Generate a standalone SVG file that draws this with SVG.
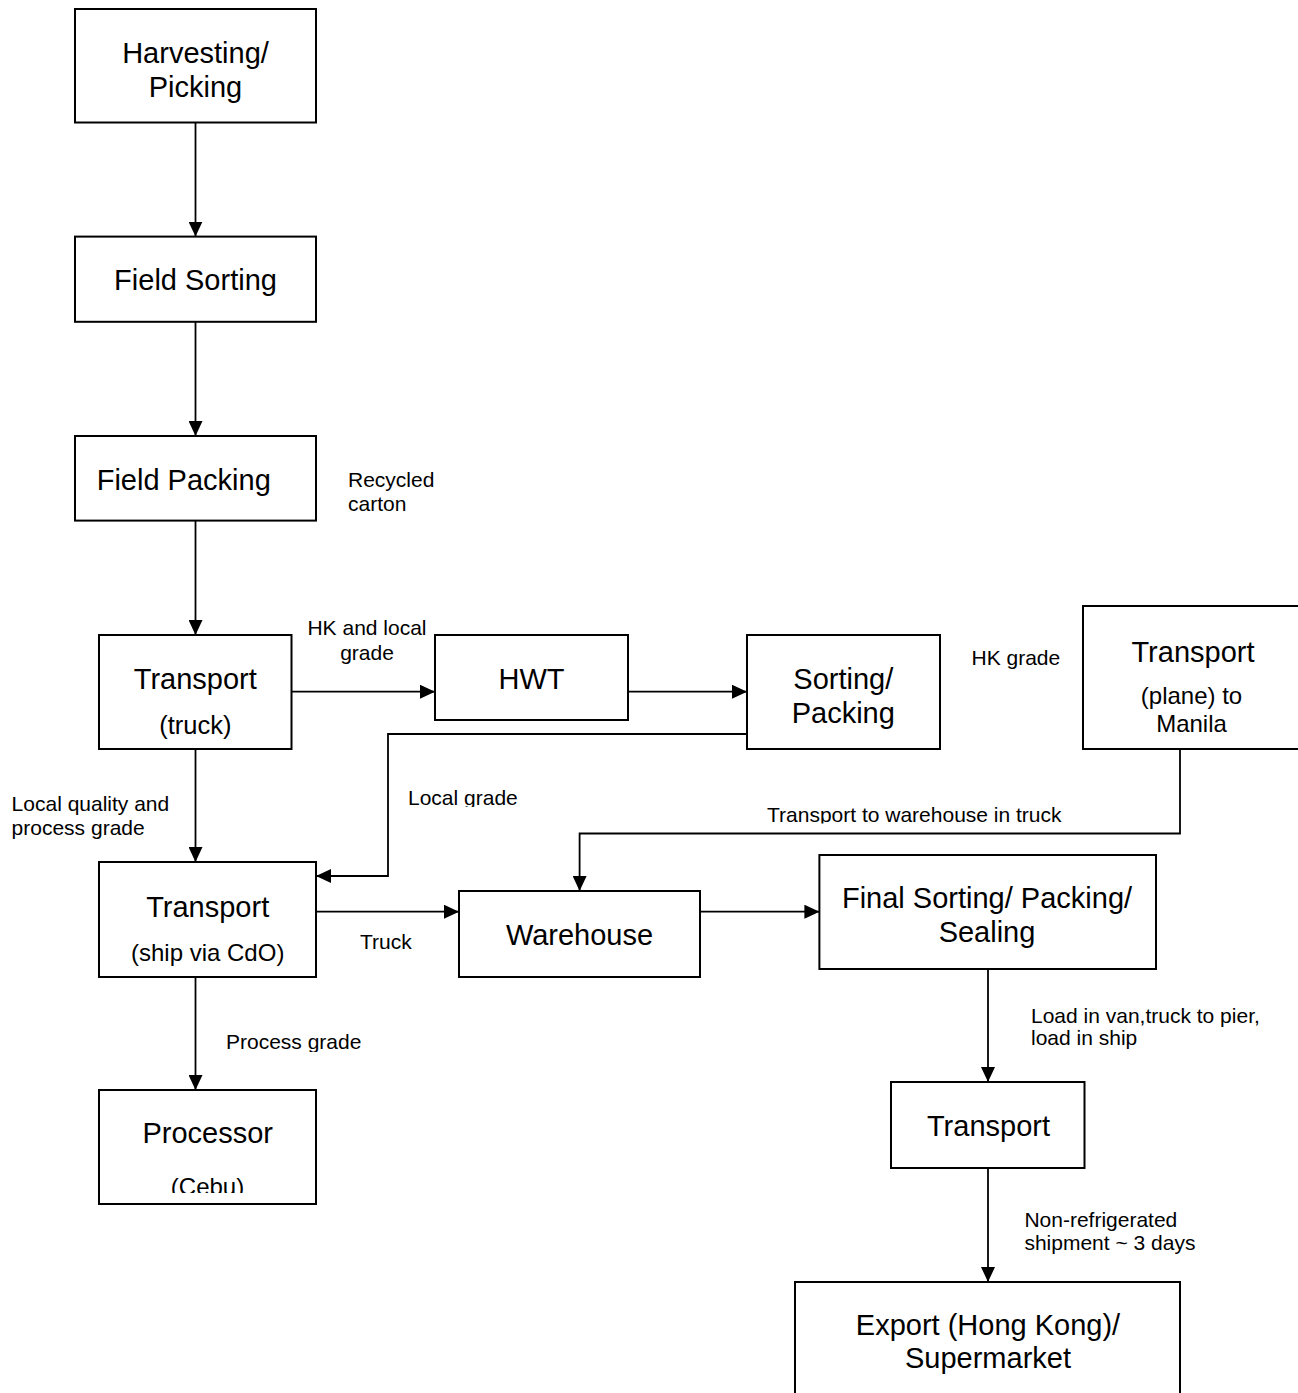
<svg xmlns="http://www.w3.org/2000/svg" width="1298" height="1393" viewBox="0 0 1298 1393">
<style>
  .box { fill: #ffffff; stroke: #000000; stroke-width: 2; }
  .t { font-family: "Liberation Sans", Arial, sans-serif; font-size: 29px; fill: #000; text-anchor: middle; }
  .s { font-family: "Liberation Sans", Arial, sans-serif; font-size: 24px; fill: #000; text-anchor: middle; }
  .l { font-family: "Liberation Sans", Arial, sans-serif; font-size: 21px; fill: #000; }
  .c { fill: none; stroke: #000000; stroke-width: 1.8; }
</style>
<defs>
  <marker id="arr" markerUnits="userSpaceOnUse" markerWidth="15" markerHeight="14" refX="15" refY="7" orient="auto">
    <path d="M0,0 L15,7 L0,14 Z" fill="#000"/>
  </marker>
  <clipPath id="clipLocal"><rect x="400" y="780" width="150" height="27"/></clipPath>
  <clipPath id="clipTW"><rect x="760" y="795" width="320" height="28.5"/></clipPath>
  <clipPath id="clipProc"><rect x="220" y="1025" width="160" height="27"/></clipPath>
  <clipPath id="clipCebu"><rect x="100" y="1160" width="215" height="33"/></clipPath>
</defs>
<rect x="0" y="0" width="1298" height="1393" fill="#ffffff"/>

<g id="connectors">
  <line class="c" x1="195.5" y1="122.5" x2="195.5" y2="236.6" marker-end="url(#arr)"/>
  <line class="c" x1="195.5" y1="321.8" x2="195.5" y2="436" marker-end="url(#arr)"/>
  <line class="c" x1="195.5" y1="520.6" x2="195.5" y2="635" marker-end="url(#arr)"/>
  <line class="c" x1="291.5" y1="691.7" x2="435" y2="691.7" marker-end="url(#arr)"/>
  <line class="c" x1="628" y1="691.7" x2="747" y2="691.7" marker-end="url(#arr)"/>
  <polyline class="c" points="747,734 388,734 388,876 316,876" marker-end="url(#arr)"/>
  <line class="c" x1="195.5" y1="749" x2="195.5" y2="862" marker-end="url(#arr)"/>
  <line class="c" x1="316" y1="911.7" x2="459" y2="911.7" marker-end="url(#arr)"/>
  <line class="c" x1="700" y1="911.7" x2="819.4" y2="911.7" marker-end="url(#arr)"/>
  <polyline class="c" points="1180,749 1180,833.5 579.6,833.5 579.6,891" marker-end="url(#arr)"/>
  <line class="c" x1="988" y1="969" x2="988" y2="1082" marker-end="url(#arr)"/>
  <line class="c" x1="988" y1="1168" x2="988" y2="1282" marker-end="url(#arr)"/>
  <line class="c" x1="195.5" y1="977" x2="195.5" y2="1090" marker-end="url(#arr)"/>
</g>

<g id="harvesting">
  <rect class="box" x="75" y="9" width="241" height="113.5"/>
  <text class="t" x="195.5" y="63">Harvesting/</text>
  <text class="t" x="195.5" y="97">Picking</text>
</g>
<g id="field-sorting">
  <rect class="box" x="75" y="236.6" width="241" height="85.2"/>
  <text class="t" x="195.5" y="290">Field Sorting</text>
</g>
<g id="field-packing">
  <rect class="box" x="75" y="436" width="241" height="84.6"/>
  <text class="t" x="96.7" y="489.5" style="text-anchor:start">Field Packing</text>
</g>
<g id="transport-truck">
  <rect class="box" x="99" y="635" width="192.5" height="114"/>
  <text class="t" x="195.3" y="689">Transport</text>
  <text class="s" x="195.3" y="734" style="font-size:25.5px">(truck)</text>
</g>
<g id="hwt">
  <rect class="box" x="435" y="635" width="193" height="85"/>
  <text class="t" x="531.5" y="689">HWT</text>
</g>
<g id="sorting-packing">
  <rect class="box" x="747" y="635" width="193" height="114"/>
  <text class="t" x="843.3" y="689">Sorting/</text>
  <text class="t" x="843.3" y="722.7">Packing</text>
</g>
<g id="transport-plane">
  <rect class="box" x="1083" y="606" width="218" height="143"/>
  <text class="t" x="1193" y="661.5">Transport</text>
  <text class="s" x="1191.5" y="704">(plane) to</text>
  <text class="s" x="1191.5" y="731.5">Manila</text>
</g>
<g id="transport-ship">
  <rect class="box" x="99" y="862" width="217" height="115"/>
  <text class="t" x="207.7" y="917">Transport</text>
  <text class="s" x="207.7" y="961">(ship via CdO)</text>
</g>
<g id="warehouse">
  <rect class="box" x="459" y="891" width="241" height="86"/>
  <text class="t" x="579.5" y="945">Warehouse</text>
</g>
<g id="final-sorting">
  <rect class="box" x="819.4" y="855" width="336.6" height="114"/>
  <text class="t" x="987" y="908">Final Sorting/ Packing/</text>
  <text class="t" x="987" y="941.7">Sealing</text>
</g>
<g id="transport-bottom">
  <rect class="box" x="891" y="1082" width="193.5" height="86"/>
  <text class="t" x="988.5" y="1136">Transport</text>
</g>
<g id="export">
  <rect class="box" x="795" y="1282" width="385" height="130"/>
  <text class="t" x="988" y="1335">Export (Hong Kong)/</text>
  <text class="t" x="988" y="1368">Supermarket</text>
</g>
<g id="processor">
  <rect class="box" x="99" y="1090" width="217" height="114"/>
  <text class="t" x="207.7" y="1143">Processor</text>
  <text class="s" x="207.5" y="1195" clip-path="url(#clipCebu)">(Cebu)</text>
</g>

<g id="labels">
  <text class="l" x="348" y="487">Recycled</text>
  <text class="l" x="348" y="510.5">carton</text>
  <text class="l" x="367" y="635" style="text-anchor:middle">HK and local</text>
  <text class="l" x="367" y="660" style="text-anchor:middle">grade</text>
  <text class="l" x="971.5" y="665">HK grade</text>
  <text class="l" x="408" y="805" clip-path="url(#clipLocal)">Local grade</text>
  <text class="l" x="11.6" y="810.7">Local quality and</text>
  <text class="l" x="11.6" y="835">process grade</text>
  <text class="l" x="767" y="821.7" clip-path="url(#clipTW)">Transport to warehouse in truck</text>
  <text class="l" x="360" y="949">Truck</text>
  <text class="l" x="1031" y="1022.7">Load in van,truck to pier,</text>
  <text class="l" x="1031" y="1045">load in ship</text>
  <text class="l" x="226" y="1049" clip-path="url(#clipProc)">Process grade</text>
  <text class="l" x="1024.4" y="1226.7">Non-refrigerated</text>
  <text class="l" x="1024.4" y="1250">shipment ~ 3 days</text>
</g>
</svg>
